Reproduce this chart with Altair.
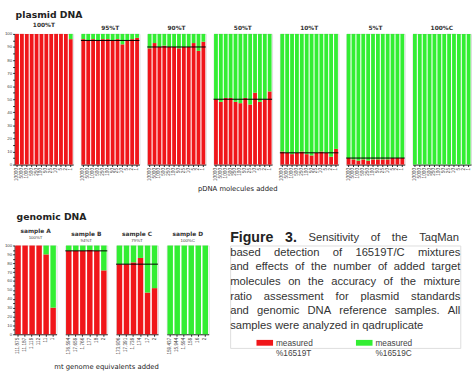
import altair as alt
import pandas as pd

RED = "#f0161a"
GREEN = "#33ee33"
FONT = "Liberation Sans"

# ---- plasmid standards: measured %16519T for each dilution step ----
plasmid_groups = ["100%T", "95%T", "90%T", "50%T", "10%T", "5%T", "100%C"]
plasmid_expected = [None, 95, 90, 50, 9, 5, None]
pdna_labels = ["10000", "5000", "1000", "500", "250", "100", "50", "25", "10", "5", "2", "1"]
pct_100T = [100, 100, 100, 100, 100, 100, 100, 100, 100, 100, 100, 96]
pct_95T = [96, 95, 96, 95, 96, 96, 95, 96, 92, 95, 96, 97]
pct_90T = [89, 93, 90, 91, 90, 90, 89, 90, 90, 93, 87, 94]
pct_50T = [50, 48, 51, 51, 48, 47, 51, 46, 55, 48, 50, 56]
pct_10T = [10, 9, 8, 9, 10, 8, 7, 9, 10, 9, 6, 12]
pct_5T = [5, 4, 3, 4, 3, 4, 4, 4, 4, 5, 5, 5]
pct_100C = [0, 0, 0, 0, 0, 0, 0, 0, 0, 0, 0, 0]
plasmid_pct = [pct_100T, pct_95T, pct_90T, pct_50T, pct_10T, pct_5T, pct_100C]

# ---- genomic DNA reference samples ----
genomic_groups = ["sample A", "sample B", "sample C", "sample D"]
genomic_subtitles = ["100%T", "94%T", "79%T", "100%C"]
genomic_expected = [None, 94, 79, None]
labels_A = ["111,875", "11,187", "1,119", "112", "11", "1"]
labels_B = ["176,594", "17,659", "1,766", "177", "18", "2"]
labels_C = ["173,906", "17,391", "1,739", "174", "17", "2"]
labels_D = ["159,437", "15,944", "1,594", "159", "16", "2"]
genomic_labels = [labels_A, labels_B, labels_C, labels_D]
pct_A = [100, 100, 100, 100, 90, 30]
pct_B = [94, 94, 94, 95, 94, 72]
pct_C = [79, 79, 81, 86, 47, 52]
pct_D = [0, 0, 0, 0, 0, 0]
genomic_pct = [pct_A, pct_B, pct_C, pct_D]

caption_head = "Figure 3."
caption_lines = [
    "Sensitivity of the TaqMan",
    "based detection of 16519T/C mixtures",
    "and effects of the number of added target",
    "molecules on the accuracy of the mixture",
    "ratio assessment for plasmid standards",
    "and genomic DNA reference samples. All",
    "samples were analyzed in qadruplicate",
]

CAP_W = 236
CAP_SIZE = 11.5
HEAD_SIZE = 14.5

# Arial-compatible advance widths (per 1000 em) used to justify the caption
ADV = dict(zip("abcdefghijklmnopqrstuvwxyz",
               [556, 556, 500, 556, 556, 278, 556, 556, 222, 222, 500, 222, 833,
                556, 556, 556, 556, 333, 500, 278, 556, 500, 722, 500, 500, 500]))
ADV.update({"A": 667, "C": 722, "D": 722, "F": 611, "M": 833, "N": 722, "S": 667,
            "T": 611, ".": 278, "/": 278, " ": 278})
ADV.update({d: 556 for d in "0123456789"})
ADV_BOLD = dict(ADV)
ADV_BOLD.update({"F": 611, "i": 278, "g": 611, "u": 611, "r": 389, "e": 556})


def text_width(s, size, bold=False):
    table = ADV_BOLD if bold else ADV
    return sum(table.get(ch, 556) for ch in s) * size / 1000.0


def caption_words():
    rows = []
    for r, line in enumerate(caption_lines):
        words = [(w, CAP_SIZE, False) for w in line.split()]
        if r == 0:
            words = [(w, HEAD_SIZE, True) for w in caption_head.split()] + words
        widths = [text_width(w, s, b) for w, s, b in words]
        if r < len(caption_lines) - 1 and len(words) > 1:
            gap = (CAP_W - sum(widths)) / (len(words) - 1)
        else:
            gap = text_width(" ", CAP_SIZE)
        x = 0.0
        for (w, s, b), wd in zip(words, widths):
            rows.append({"row": r, "x": x, "word": w, "bold": b})
            x += wd + gap
    return pd.DataFrame(rows)


def long_table(labels, values):
    rows = []
    for i, (lab, v) in enumerate(zip(labels, values)):
        rows.append({"idx": i, "label": lab, "allele": "T", "pct": v, "ord": 0})
        rows.append({"idx": i, "label": lab, "allele": "C", "pct": 100 - v, "ord": 1})
    return pd.DataFrame(rows)


color = alt.Color(
    "allele:N",
    scale=alt.Scale(domain=["T", "C"], range=[RED, GREEN]),
    legend=alt.Legend(
        orient="none",
        legendX=248,
        legendY=308,
        direction="horizontal",
        title=None,
        labelExpr="datum.value == 'T' ? ['measured', '%16519T'] : ['measured', '%16519C']",
        labelFont=FONT,
        labelFontSize=8.5,
        labelColor="#444",
        labelLimit=200,
        columnPadding=44,
        symbolType="M-1,-0.35L1,-0.35L1,0.35L-1,0.35Z",
        symbolSize=289,
        symbolStrokeWidth=0,
        symbolOpacity=1,
        labelOffset=3,
    ),
)


def panel(labels, values, title, expected, width, height, first, subtitle=None):
    df = long_table(labels, values)
    yaxis = (
        alt.Axis(
            values=list(range(0, 101, 5)),
            labelExpr="datum.value % 10 == 0 ? datum.label : ''",
            labelFontSize=4.5,
            labelFont=FONT,
            labelColor="#444",
            tickSize=2,
            tickColor="#222",
            domainColor="#222",
            grid=False,
            title=None,
            labelPadding=1,
        )
        if first
        else None
    )
    bars = alt.Chart(df).mark_bar().encode(
        x=alt.X(
            "label:N",
            sort=labels,
            title=None,
            scale=alt.Scale(paddingInner=0.22, paddingOuter=0.1),
            axis=alt.Axis(
                labelAngle=270,
                labelFontSize=4.8,
                labelFont=FONT,
                labelColor="#444",
                tickSize=2,
                tickColor="#222",
                domainColor="#222",
                labelPadding=1,
                labelAlign="right",
                labelBaseline="middle",
            ),
        ),
        y=alt.Y("pct:Q", stack="zero", scale=alt.Scale(domain=[0, 100], nice=False), axis=yaxis),
        color=color,
        order=alt.Order("ord:Q"),
    )
    layers = [bars]
    if expected is not None:
        ref = pd.DataFrame({"expected": [expected]})
        layers.append(
            alt.Chart(ref).mark_rule(color="black", strokeWidth=1).encode(
                y=alt.Y("expected:Q", axis=None)
            )
        )
    t = alt.TitleParams(
        text=title,
        subtitle=subtitle if subtitle else "",
        fontSize=6,
        font="DejaVu Sans",
        fontWeight="bold",
        color="#333",
        subtitleFontSize=4.5,
        subtitleFont=FONT,
        subtitleColor="#444",
        subtitlePadding=1,
        offset=3,
        anchor="middle",
    )
    return alt.layer(*layers).properties(width=width, height=height, title=t)


top_panels = [
    panel(pdna_labels, v, g, e, 60, 134, i == 0)
    for i, (g, v, e) in enumerate(zip(plasmid_groups, plasmid_pct, plasmid_expected))
]
top_row = alt.hconcat(
    *top_panels,
    spacing=5,
    title=alt.TitleParams(
        "pDNA molecules added", orient="bottom", anchor="middle", fontSize=7,
        font="DejaVu Sans", fontWeight="normal", color="#222", offset=4,
    ),
)
top_block = alt.vconcat(
    top_row,
    title=alt.TitleParams(
        "plasmid DNA", anchor="start", fontSize=9.5, font="DejaVu Sans",
        fontWeight="bold", color="#222", offset=2, dx=12,
    ),
)

bottom_panels = [
    panel(labs, v, g, e, 43, 91, i == 0, subtitle=s)
    for i, (g, v, e, labs, s) in enumerate(
        zip(genomic_groups, genomic_pct, genomic_expected, genomic_labels, genomic_subtitles)
    )
]
bottom_row = alt.hconcat(
    *bottom_panels,
    spacing=7,
    title=alt.TitleParams(
        "mt genome equivalents added", orient="bottom", anchor="middle", fontSize=7,
        font="DejaVu Sans", fontWeight="normal", color="#222", offset=9,
    ),
)
bottom_block = alt.vconcat(
    bottom_row,
    title=alt.TitleParams(
        "genomic DNA", anchor="start", fontSize=9.5, font="DejaVu Sans",
        fontWeight="bold", color="#222", offset=7, dx=13,
    ),
)

# justified caption; row 0 sits just above the view so the text starts near the panel titles
words_df = caption_words()
yscale = alt.Scale(domain=[0.5, 7.5], reverse=True)
xscale = alt.Scale(domain=[0, CAP_W], nice=False, zero=False)
cap_regular = alt.Chart(words_df).transform_filter("!datum.bold").mark_text(
    align="left", baseline="middle", fontSize=CAP_SIZE, font=FONT, color="#333"
).encode(
    x=alt.X("x:Q", scale=xscale, axis=None),
    y=alt.Y("row:Q", scale=yscale, axis=None),
    text="word:N",
)
cap_bold = alt.Chart(words_df).transform_filter("datum.bold").mark_text(
    align="left", baseline="middle", fontSize=HEAD_SIZE, font=FONT, fontWeight="bold", color="#222"
).encode(
    x=alt.X("x:Q", scale=xscale, axis=None),
    y=alt.Y("row:Q", scale=yscale, axis=None),
    text="word:N",
)
caption = alt.layer(cap_bold, cap_regular).properties(width=CAP_W, height=105)

bottom = alt.hconcat(bottom_block, caption, spacing=20)

chart = alt.vconcat(top_block, bottom, spacing=20).properties(
    padding={"left": 3, "top": 6, "right": 0, "bottom": 0}
).configure_view(stroke=None).configure(background="white")

chart.save("out.html", embed_options={"renderer": "svg", "actions": False})
